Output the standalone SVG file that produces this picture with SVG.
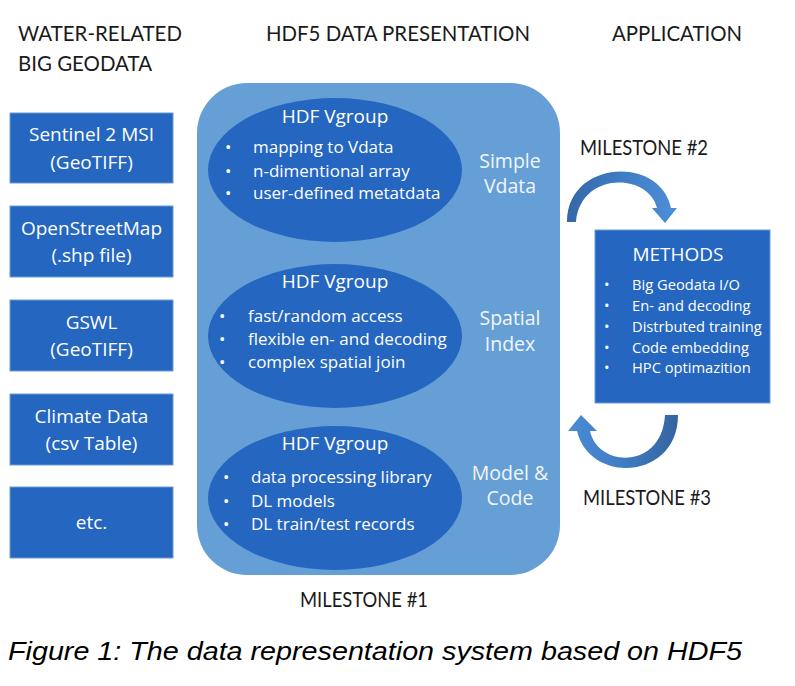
<svg xmlns="http://www.w3.org/2000/svg" width="795" height="686" viewBox="0 0 795 686">
<style>
.hdr{font-family:Lato,"Liberation Sans",sans-serif;font-size:21px;fill:#1a1a1a}
.box{fill:#2566c0;stroke:#6a9bd8;stroke-width:1}
.bt{font-family:"Open Sans","Noto Sans",sans-serif;font-size:19px;fill:#ffffff;text-anchor:middle}
.ell{fill:#2566c0}
.vg{font-family:"Open Sans","Noto Sans",sans-serif;font-size:19px;fill:#ffffff;text-anchor:middle}
.li{font-family:"Open Sans","Noto Sans",sans-serif;font-size:17px;fill:#ffffff}
.side{font-family:"Open Sans","Noto Sans",sans-serif;font-size:19.5px;fill:#f2f6fb;text-anchor:middle}
.ml{font-family:"Open Sans","Noto Sans",sans-serif;font-size:14.7px;fill:#ffffff}
.cap{font-family:"Liberation Sans",Arial,sans-serif;font-size:26px;font-style:italic;fill:#000000}
</style>
<defs>
<linearGradient id="gTop" x1="0" y1="0" x2="1" y2="0">
<stop offset="0" stop-color="#3468a8"/>
<stop offset="0.5" stop-color="#3f7cc4"/>
<stop offset="1" stop-color="#4d8fd8"/>
</linearGradient>
<linearGradient id="gBot" x1="0" y1="0" x2="1" y2="0">
<stop offset="0" stop-color="#4a8bd4"/>
<stop offset="0.5" stop-color="#3f7cc4"/>
<stop offset="1" stop-color="#34649e"/>
</linearGradient>
</defs>
<rect width="795" height="686" fill="#ffffff"/>

<g id="headers">
<text class="hdr" x="18" y="41" textLength="164" lengthAdjust="spacingAndGlyphs">WATER-RELATED</text>
<text class="hdr" x="18" y="71" textLength="134" lengthAdjust="spacingAndGlyphs">BIG GEODATA</text>
<text class="hdr" x="266" y="41" textLength="264" lengthAdjust="spacingAndGlyphs">HDF5 DATA PRESENTATION</text>
<text class="hdr" x="612" y="41" textLength="130" lengthAdjust="spacingAndGlyphs">APPLICATION</text>
</g>

<g id="src-sentinel">
<rect class="box" x="10" y="113" width="163" height="70"/>
<text class="bt" x="91.5" y="141">Sentinel 2 MSI</text>
<text class="bt" x="91.5" y="169">(GeoTIFF)</text>
</g>
<g id="src-osm">
<rect class="box" x="10" y="206" width="163" height="71"/>
<text class="bt" x="91.5" y="235">OpenStreetMap</text>
<text class="bt" x="91.5" y="262">(.shp file)</text>
</g>
<g id="src-gswl">
<rect class="box" x="10" y="300" width="163" height="71"/>
<text class="bt" x="91.5" y="329">GSWL</text>
<text class="bt" x="91.5" y="356">(GeoTIFF)</text>
</g>
<g id="src-climate">
<rect class="box" x="10" y="394" width="163" height="71"/>
<text class="bt" x="91.5" y="423">Climate Data</text>
<text class="bt" x="91.5" y="450">(csv Table)</text>
</g>
<g id="src-etc">
<rect class="box" x="10" y="487" width="163" height="71"/>
<text class="bt" x="91.5" y="529">etc.</text>
</g>

<g id="hdf5">
<rect x="197" y="83" width="363" height="492" rx="50" ry="50" fill="#659fd6"/>
</g>

<g id="vgroup-simple">
<ellipse class="ell" cx="335" cy="170" rx="127" ry="72"/>
<text class="vg" x="335" y="123">HDF Vgroup</text>
<text class="li" x="225" y="153">•</text><text class="li" x="253" y="153">mapping to Vdata</text>
<text class="li" x="225" y="177">•</text><text class="li" x="253" y="177">n-dimentional array</text>
<text class="li" x="225" y="199">•</text><text class="li" x="253" y="199">user-defined metatdata</text>
<text class="side" x="510" y="168">Simple</text>
<text class="side" x="510" y="193">Vdata</text>
</g>

<g id="vgroup-spatial">
<ellipse class="ell" cx="335" cy="336" rx="127" ry="72"/>
<text class="vg" x="335" y="288">HDF Vgroup</text>
<text class="li" x="219" y="322">•</text><text class="li" x="248" y="322">fast/random access</text>
<text class="li" x="219" y="345">•</text><text class="li" x="248" y="345">flexible en- and decoding</text>
<text class="li" x="219" y="368">•</text><text class="li" x="248" y="368">complex spatial join</text>
<text class="side" x="510" y="325">Spatial</text>
<text class="side" x="510" y="351">Index</text>
</g>

<g id="vgroup-model">
<ellipse class="ell" cx="335" cy="498" rx="127" ry="72"/>
<text class="vg" x="335" y="450">HDF Vgroup</text>
<text class="li" x="223" y="483">•</text><text class="li" x="251" y="483">data processing library</text>
<text class="li" x="223" y="507">•</text><text class="li" x="251" y="507">DL models</text>
<text class="li" x="223" y="530">•</text><text class="li" x="251" y="530">DL train/test records</text>
<text class="side" x="510" y="480">Model &amp;</text>
<text class="side" x="510" y="505">Code</text>
</g>

<g id="methods">
<rect x="595" y="230" width="175" height="173" fill="#2566c0" stroke="#6a9bd8" stroke-width="1"/>
<text class="vg" x="678" y="261">METHODS</text>
<text class="ml" x="604" y="290">•</text><text class="ml" x="632" y="290">Big Geodata I/O</text>
<text class="ml" x="604" y="311">•</text><text class="ml" x="632" y="311">En- and decoding</text>
<text class="ml" x="604" y="332">•</text><text class="ml" x="632" y="332">Distrbuted training</text>
<text class="ml" x="604" y="353">•</text><text class="ml" x="632" y="353">Code embedding</text>
<text class="ml" x="604" y="373">•</text><text class="ml" x="632" y="373">HPC optimazition</text>
</g>

<g id="connectors">
<path d="M567,222 C567,160 660,155 671,208 L677,208 L665,223 L652,208 L657,208 C648,172 580,172 576,222 Z" fill="url(#gTop)"/>
<path d="M678,415 C678,480 590,485 577,431 L568,431 L581,415 L597,431 L590,431 C598,468 662,470 665,415 Z" fill="url(#gBot)"/>
</g>

<g id="labels">
<text class="hdr" x="580" y="155" textLength="128" lengthAdjust="spacingAndGlyphs">MILESTONE #2</text>
<text class="hdr" x="583" y="505" textLength="128" lengthAdjust="spacingAndGlyphs">MILESTONE #3</text>
<text class="hdr" x="300" y="607" textLength="128" lengthAdjust="spacingAndGlyphs">MILESTONE #1</text>
</g>

<text class="cap" x="8" y="660" textLength="734" lengthAdjust="spacingAndGlyphs">Figure 1: The data representation system based on HDF5</text>
</svg>
